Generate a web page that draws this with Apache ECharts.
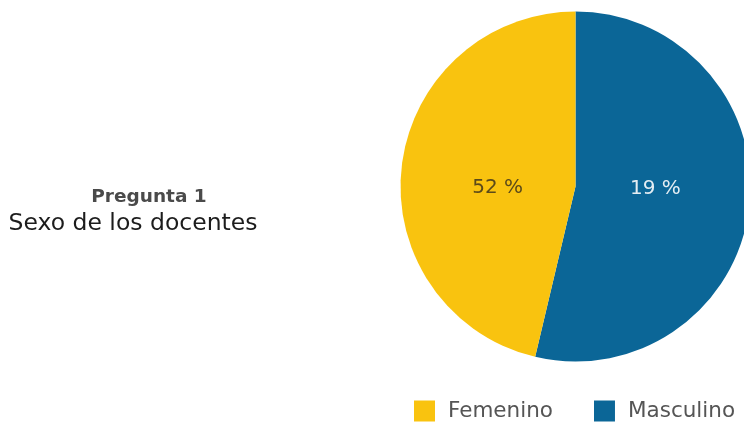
<!DOCTYPE html>
<html>
<head>
<meta charset="utf-8">
<script src="https://cdn.jsdelivr.net/npm/echarts@6/dist/echarts.min.js"></script>
<style>
  html, body { margin: 0; padding: 0; background: #ffffff; }
  #chart { width: 744px; height: 425px; }
</style>
</head>
<body>
<div id="chart"></div>
<script>
// Sexo de los docentes — slice shares and the text printed on each slice
const categories = ['Masculino', 'Femenino'];
const shares = [53.7, 46.3];
const sliceLabels = ['19 %', '52 %'];
const legendOrder = ['Femenino', 'Masculino'];
const questionTitle = 'Pregunta 1';
const questionText = 'Sexo de los docentes';
const colors = ['#0b6697', '#f9c30f'];
const labelColors = ['#e4edf3', '#5b4a1a'];
const labelShift = [[-10, -8], [12, 12]];

const chart = echarts.init(document.getElementById('chart'), null, { renderer: 'canvas' });

const font = '"DejaVu Sans", "Noto Sans", sans-serif';

chart.setOption({
  animation: false,
  backgroundColor: '#ffffff',
  color: colors,
  title: [{
    text: questionTitle,
    left: 149,
    top: 187,
    padding: 0,
    textAlign: 'center',
    textStyle: { fontFamily: font, fontSize: 18.5, lineHeight: 20, fontWeight: 'bold', color: '#4a4a4a' }
  }, {
    text: questionText,
    left: 133,
    top: 210,
    padding: 0,
    textAlign: 'center',
    textStyle: { fontFamily: font, fontSize: 23.5, lineHeight: 28, fontWeight: 'normal', color: '#1c1c1c' }
  }],
  legend: {
    data: legendOrder,
    left: 409,
    top: 395,
    itemWidth: 21,
    itemHeight: 21,
    itemGap: 41,
    icon: 'rect',
    textStyle: { fontFamily: font, fontSize: 21.5, color: '#555555', padding: [0, 0, 0, 8] }
  },
  series: [{
    type: 'pie',
    center: [575.5, 186.5],
    radius: 175,
    startAngle: 90,
    clockwise: true,
    silent: true,
    label: {
      show: true,
      position: 'inside',
      fontFamily: font,
      fontSize: 20,
      formatter: p => sliceLabels[p.dataIndex]
    },
    labelLayout: p => ({ dx: labelShift[p.dataIndex][0], dy: labelShift[p.dataIndex][1] }),
    labelLine: { show: false },
    itemStyle: { borderWidth: 0 },
    data: categories.map((name, i) => ({
      name,
      value: shares[i],
      label: { color: labelColors[i] }
    }))
  }]
});
</script>
</body>
</html>
